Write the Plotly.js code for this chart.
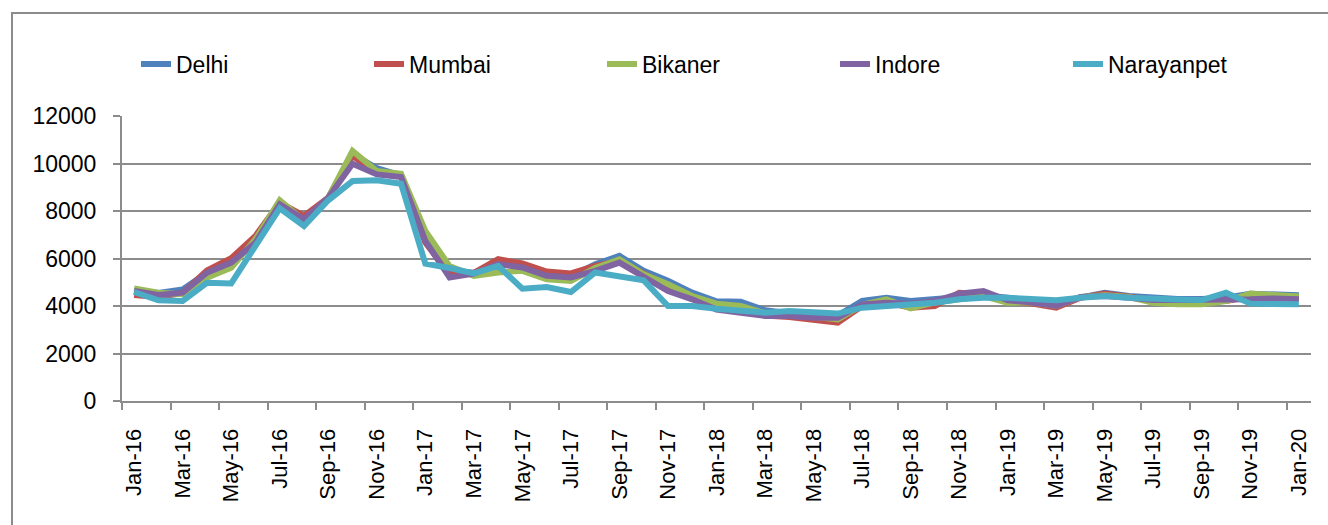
<!DOCTYPE html>
<html><head><meta charset="utf-8">
<script src="https://cdn.plot.ly/plotly-3.0.1.min.js"></script>
<style>
html,body{margin:0;padding:0;background:#fff;}
#chart{width:1328px;height:525px;}
#frame{position:absolute;left:11px;top:12px;width:1400px;height:600px;border-top:2px solid #8c8c8c;border-left:2px solid #8c8c8c;pointer-events:none;}
</style>
</head><body>
<div id="chart"></div><div id="frame"></div>
<script>
const months = ['Jan-16','Feb-16','Mar-16','Apr-16','May-16','Jun-16','Jul-16','Aug-16','Sep-16','Oct-16','Nov-16','Dec-16',
'Jan-17','Feb-17','Mar-17','Apr-17','May-17','Jun-17','Jul-17','Aug-17','Sep-17','Oct-17','Nov-17','Dec-17',
'Jan-18','Feb-18','Mar-18','Apr-18','May-18','Jun-18','Jul-18','Aug-18','Sep-18','Oct-18','Nov-18','Dec-18',
'Jan-19','Feb-19','Mar-19','Apr-19','May-19','Jun-19','Jul-19','Aug-19','Sep-19','Oct-19','Nov-19','Dec-19','Jan-20'];
const tickLabels = ['Jan-16','Mar-16','May-16','Jul-16','Sep-16','Nov-16','Jan-17','Mar-17','May-17','Jul-17','Sep-17','Nov-17',
'Jan-18','Mar-18','May-18','Jul-18','Sep-18','Nov-18','Jan-19','Mar-19','May-19','Jul-19','Sep-19','Nov-19','Jan-20'];

const delhi = [4650,4550,4700,5400,5900,6900,8350,7650,8550,10400,9800,9500,
6900,5500,5400,5800,5650,5300,5250,5760,6110,5480,5060,4560,
4200,4180,3820,3700,3650,3600,4210,4350,4210,4280,4400,4450,
4350,4200,4150,4380,4560,4420,4350,4300,4300,4350,4520,4490,4450];
const mumbai = [4460,4380,4550,5500,6010,6950,8350,7790,8560,10320,9600,9500,
6670,5330,5400,5970,5790,5450,5370,5690,5900,5340,4840,4350,
4000,3900,3600,3540,3440,3300,4000,4150,3930,4000,4560,4490,
4200,4100,3930,4350,4520,4400,4250,4250,4250,4210,4400,4350,4350];
const bikaner = [4740,4560,4500,5190,5610,6810,8450,7600,8560,10530,9680,9570,
7160,5680,5270,5410,5480,5130,5060,5600,5970,5340,4920,4420,
4100,4000,3700,3650,3550,3440,4050,4280,3900,4150,4300,4420,
4140,4150,4000,4380,4450,4380,4140,4070,4070,4210,4520,4450,4400];
const indore = [4630,4460,4560,5400,5830,6670,8280,7650,8560,9990,9540,9430,
6740,5200,5360,5760,5620,5270,5200,5480,5830,5200,4630,4280,
3850,3720,3580,3580,3510,3510,4070,4140,4100,4210,4520,4630,
4240,4150,4000,4380,4420,4350,4250,4250,4250,4250,4280,4320,4280];
const narayanpet = [4590,4240,4210,4980,4950,6550,8110,7370,8450,9260,9290,9150,
5780,5600,5370,5690,4730,4800,4590,5410,5270,5080,4000,4000,
3880,3820,3720,3790,3750,3680,3930,4000,4070,4140,4280,4350,
4350,4280,4240,4350,4420,4350,4280,4270,4250,4560,4100,4070,4070];

const seriesNames = ['Delhi','Mumbai','Bikaner','Indore','Narayanpet'];
const seriesData = [delhi, mumbai, bikaner, indore, narayanpet];
const colors = ['#4F81BD','#C0504D','#9BBB59','#8064A2','#4BACC6'];

const xIdx = months.map((m,i)=>i);
const traces = seriesNames.map((n,k)=>({
  type:'scatter', mode:'lines', name:n, x:xIdx, y:seriesData[k],
  line:{color:colors[k], width:6}, hoverinfo:'skip'
}));

const gridC = '#8c8c8c';
const layout = {
  width:1328, height:525,
  margin:{l:122, r:17, t:116, b:124, pad:0},
  paper_bgcolor:'#fff', plot_bgcolor:'#fff',
  font:{family:'Liberation Sans, Arial, sans-serif', color:'#000'},
  showlegend:true,
  legend:{orientation:'h', xref:'container', yref:'container', x:136/1328, y:1-64/525,
    xanchor:'left', yanchor:'middle', font:{size:23, family:'Liberation Sans, Arial, sans-serif'},
    entrywidth:188, entrywidthmode:'pixels', bgcolor:'rgba(0,0,0,0)', traceorder:'normal'},
  xaxis:{
    type:'linear', range:[-0.5, 48.5], fixedrange:true,
    tickmode:'array', tickvals:tickLabels.map(l=>months.indexOf(l)), ticktext:tickLabels,
    tickangle:-90, ticks:'', ticklabelstandoff:17,
    tickfont:{size:22, family:'Liberation Sans, Arial, sans-serif'},
    showgrid:false, zeroline:false, showline:true, linecolor:gridC, linewidth:2,
    minor:{tick0:-0.5, dtick:2, ticks:'outside', ticklen:7, tickwidth:2, tickcolor:gridC, showgrid:false}
  },
  yaxis:{
    range:[0,12000], dtick:2000, tick0:0, fixedrange:true,
    ticks:'outside', ticklen:7, tickwidth:2, tickcolor:gridC, ticklabelstandoff:12,
    tickfont:{size:23, family:'Liberation Sans, Arial, sans-serif'},
    showgrid:true, gridcolor:gridC, gridwidth:2,
    zeroline:false, showline:true, linecolor:gridC, linewidth:2, tickformat:'d'
  }
};
Plotly.newPlot('chart', traces, layout, {displayModeBar:false, staticPlot:true});
</script>
</body></html>
